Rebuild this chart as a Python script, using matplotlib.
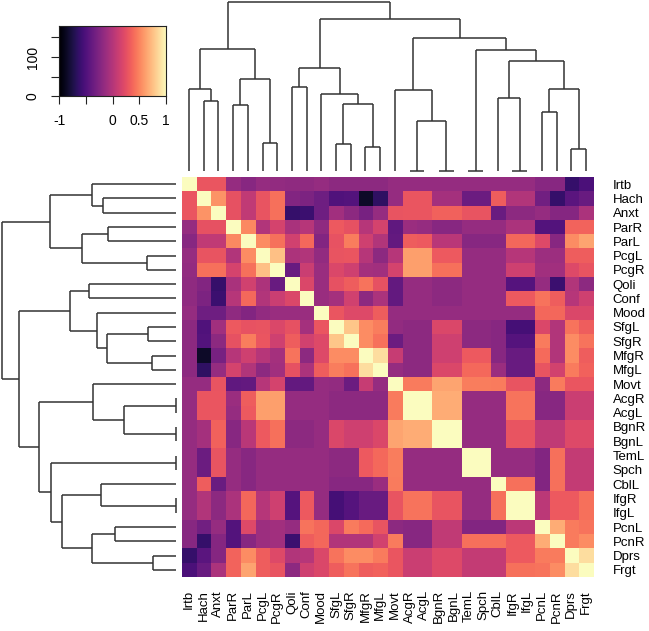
import numpy as np
import matplotlib
matplotlib.use('Agg')
import matplotlib.pyplot as plt
from matplotlib.collections import LineCollection

# ---------------- data ----------------
labels = ['Irtb', 'Hach', 'Anxt', 'ParR', 'ParL', 'PcgL', 'PcgR', 'Qoli', 'Conf', 'Mood',
          'SfgL', 'SfgR', 'MfgR', 'MfgL', 'Movt', 'AcgR', 'AcgL', 'BgnR', 'BgnL', 'TemL',
          'Spch', 'CblL', 'IfgR', 'IfgL', 'PcnL', 'PcnR', 'Dprs', 'Frgt']

# upper triangle of the correlation matrix, each row starting at the diagonal
corr_upper = [
    [1.00, 0.28, 0.28, -0.15, -0.22, -0.15, -0.17, -0.18, -0.18, -0.15, -0.20, -0.20, -0.20, -0.20,
     -0.15, -0.15, -0.15, -0.15, -0.15, -0.15, -0.15, -0.15, -0.15, -0.15, -0.22, -0.22, -0.62, -0.52],
    [1.00, 0.55, 0.25, 0.05, 0.27, 0.40, -0.25, -0.28, -0.35, -0.50, -0.48, -0.85, -0.65,
     -0.15, 0.28, 0.28, -0.08, -0.08, -0.36, -0.36, 0.32, -0.02, -0.02, -0.33, -0.62, -0.45, -0.38],
    [1.00, 0.25, 0.05, 0.27, 0.40, -0.62, -0.60, -0.35, -0.10, -0.20, -0.30, -0.15,
     0.27, 0.28, 0.28, 0.34, 0.34, 0.27, 0.27, -0.37, -0.20, -0.20, -0.15, -0.23, -0.23, -0.05],
    [1.00, 0.50, -0.02, 0.15, -0.06, 0.00, -0.18, 0.30, 0.25, 0.00, 0.15,
     -0.42, -0.13, -0.15, -0.22, -0.22, -0.15, -0.15, -0.15, -0.05, -0.05, -0.48, -0.48, 0.35, 0.35],
    [1.00, 0.52, 0.40, 0.13, 0.37, -0.25, 0.26, 0.46, 0.12, -0.02,
     -0.40, 0.32, 0.30, 0.02, 0.02, -0.22, -0.22, -0.22, 0.36, 0.36, 0.20, -0.22, 0.52, 0.62],
    [1.00, 0.74, -0.04, -0.02, -0.17, 0.27, 0.28, 0.00, -0.20,
     0.00, 0.60, 0.60, 0.30, 0.30, -0.15, -0.15, -0.15, 0.00, 0.00, -0.12, -0.12, 0.32, 0.32],
    [1.00, -0.38, 0.10, -0.14, 0.18, 0.12, -0.08, -0.10,
     0.15, 0.60, 0.60, 0.40, 0.40, -0.15, -0.15, -0.15, 0.12, 0.12, -0.10, -0.10, 0.20, 0.27],
    [1.00, 0.18, -0.14, 0.25, 0.32, 0.42, 0.25,
     -0.40, -0.15, -0.15, -0.20, -0.20, -0.15, -0.15, -0.15, -0.47, -0.47, -0.15, -0.60, -0.02, -0.20],
    [1.00, -0.14, -0.08, 0.13, -0.20, -0.05,
     -0.40, -0.15, -0.15, -0.20, -0.20, -0.15, -0.15, -0.15, 0.30, 0.30, 0.42, 0.32, 0.00, 0.12],
    [1.00, 0.28, 0.20, 0.20, 0.32,
     -0.15, -0.15, -0.15, -0.15, -0.15, -0.15, -0.15, -0.15, -0.15, -0.15, 0.36, 0.36, 0.18, 0.18],
    [1.00, 0.76, 0.52, 0.46,
     -0.17, -0.20, -0.20, 0.18, 0.18, -0.20, -0.20, -0.22, -0.55, -0.55, 0.18, -0.02, 0.42, 0.32],
    [1.00, 0.52, 0.41,
     -0.36, -0.20, -0.20, 0.12, 0.12, -0.20, -0.20, -0.22, -0.47, -0.47, 0.45, -0.02, 0.52, 0.42],
    [1.00, 0.86,
     0.08, -0.20, -0.20, 0.12, 0.12, 0.30, 0.30, -0.22, -0.38, -0.38, 0.38, -0.02, 0.52, 0.32],
    [1.00,
     -0.15, -0.20, -0.20, 0.18, 0.18, 0.37, 0.37, -0.13, -0.38, -0.38, 0.27, 0.14, 0.45, 0.34],
    [1.00, 0.45, 0.45, 0.62, 0.62, 0.46, 0.46, 0.45, 0.27, 0.27, -0.20, 0.45, 0.28, 0.28],
    [1.00, 1.00, 0.65, 0.65, -0.15, -0.15, -0.15, 0.42, 0.42, -0.22, -0.22, 0.10, 0.10],
    [1.00, 0.65, 0.65, -0.15, -0.15, -0.15, 0.42, 0.42, -0.22, -0.22, 0.10, 0.10],
    [1.00, 1.00, -0.15, -0.15, -0.15, 0.27, 0.27, 0.05, 0.05, 0.20, 0.20],
    [1.00, -0.15, -0.15, -0.15, 0.27, 0.27, 0.05, 0.05, 0.20, 0.20],
    [1.00, 1.00, -0.15, -0.15, -0.15, -0.25, 0.40, 0.07, 0.07],
    [1.00, -0.15, -0.15, -0.15, -0.25, 0.40, 0.07, 0.07],
    [1.00, 0.40, 0.40, -0.25, 0.40, 0.07, 0.07],
    [1.00, 1.00, 0.03, 0.30, 0.30, 0.40],
    [1.00, 0.03, 0.30, 0.30, 0.40],
    [1.00, 0.65, 0.45, 0.42],
    [1.00, 0.45, 0.52],
    [1.00, 0.86],
    [1.00],
]

# hierarchical clustering merges: (child a, child b, height); ints refer to earlier merges
merges = [
    ('Hach', 'Anxt', 0.415),   # 0
    ('Irtb', 0, 0.483),        # 1
    ('ParR', 'ParL', 0.387),   # 2
    ('PcgL', 'PcgR', 0.166),   # 3
    (2, 3, 0.541),             # 4
    (1, 4, 0.722),             # 5
    ('Qoli', 'Conf', 0.496),   # 6
    ('SfgL', 'SfgR', 0.157),   # 7
    ('MfgR', 'MfgL', 0.139),   # 8
    (7, 8, 0.393),             # 9
    ('Mood', 9, 0.454),        # 10
    (6, 10, 0.608),            # 11
    ('AcgR', 'AcgL', 0.0),     # 12
    ('BgnR', 'BgnL', 0.0),     # 13
    (12, 13, 0.295),           # 14
    ('Movt', 14, 0.475),       # 15
    ('TemL', 'Spch', 0.0),     # 16
    ('IfgR', 'IfgL', 0.0),     # 17
    ('CblL', 17, 0.431),       # 18
    ('PcnL', 'PcnR', 0.346),   # 19
    ('Dprs', 'Frgt', 0.130),   # 20
    (19, 20, 0.482),           # 21
    (18, 21, 0.652),           # 22
    (16, 22, 0.717),           # 23
    (15, 23, 0.785),           # 24
    (11, 24, 0.898),           # 25
    (5, 25, 1.000),            # 26
]

key_ticks = [-1, -0.5, 0, 0.5, 1]
key_ticklabels = ['-1', '', '0', '0.5', '1']
count_ticks = [0, 50, 100, 150]
count_ticklabels = ['0', '', '100', '']

# ---------------- build ----------------
n = len(labels)
M = np.zeros((n, n))
for i, row in enumerate(corr_upper):
    for k, v in enumerate(row):
        M[i, i + k] = v
        M[i + k, i] = v

plt.rcParams['font.family'] = ['Liberation Sans', 'DejaVu Sans']
fig = plt.figure(figsize=(6.49, 6.31), dpi=100)
W, H = 649.0, 631.0


def rect(x0, y0, x1, y1):
    return [x0 / W, 1 - y1 / H, (x1 - x0) / W, (y1 - y0) / H]


# heatmap
ax = fig.add_axes(rect(181.7, 177, 593.3, 577))
ax.imshow(M, cmap='magma', vmin=-1, vmax=1, aspect='auto', interpolation='nearest',
          extent=(-0.5, n - 0.5, n - 0.5, -0.5))
ax.set_xticks(range(n))
ax.set_xticklabels(labels, rotation=90, fontsize=9.5)
ax.set_yticks(range(n))
ax.set_yticklabels(labels, fontsize=9.5)
ax.yaxis.tick_right()
ax.tick_params(axis='x', length=0, pad=9.5)
ax.tick_params(axis='y', length=0, pad=14)
for s in ax.spines.values():
    s.set_visible(False)

# dendrogram geometry
leafpos = {lab: (float(i), 0.0) for i, lab in enumerate(labels)}
nodes = []
segs = []
for a, b, h in merges:
    pa = leafpos[a] if isinstance(a, str) else nodes[a]
    pb = leafpos[b] if isinstance(b, str) else nodes[b]
    segs.append([(pa[0], pa[1]), (pa[0], h)])
    segs.append([(pb[0], pb[1]), (pb[0], h)])
    segs.append([(pa[0], h), (pb[0], h)])
    nodes.append(((pa[0] + pb[0]) / 2.0, h))

lc_kw = dict(colors='#333333', linewidths=1.1, capstyle='butt')

# top dendrogram
axt = fig.add_axes(rect(181.7, 1.7, 593.3, 170.7))
lct = LineCollection(segs, **lc_kw)
lct.set_clip_on(False)
axt.add_collection(lct)
axt.set_xlim(-0.5, n - 0.5)
axt.set_ylim(0, 1.0)
axt.axis('off')

# left dendrogram
axl = fig.add_axes(rect(1.7, 177, 175.7, 577))
segs_l = [[(p[1], p[0]) for p in s] for s in segs]
lcl = LineCollection(segs_l, **lc_kw)
lcl.set_clip_on(False)
axl.add_collection(lcl)
axl.set_xlim(1.0, 0)
axl.set_ylim(n - 0.5, -0.5)
axl.axis('off')

# colour key
axk = fig.add_axes(rect(59, 25.7, 166, 96.3))
grad = np.linspace(-1, 1, 256).reshape(1, -1)
axk.imshow(grad, cmap='magma', vmin=-1, vmax=1, aspect='auto', interpolation='bilinear',
           extent=(-1, 1, 0, 180))
axk.set_xlim(-1, 1)
axk.set_ylim(0, 180)
axk.set_xticks(key_ticks)
axk.set_xticklabels(key_ticklabels, fontsize=10)
axk.set_yticks(count_ticks)
axk.set_yticklabels(count_ticklabels, fontsize=10, rotation=90, va='center')
axk.tick_params(axis='both', length=6, width=0.8, color='#222222')
axk.tick_params(axis='x', pad=7)
axk.tick_params(axis='y', pad=8)
for s in axk.spines.values():
    s.set_linewidth(0.8)
    s.set_color('#222222')

fig.savefig('out.png', dpi=100)
